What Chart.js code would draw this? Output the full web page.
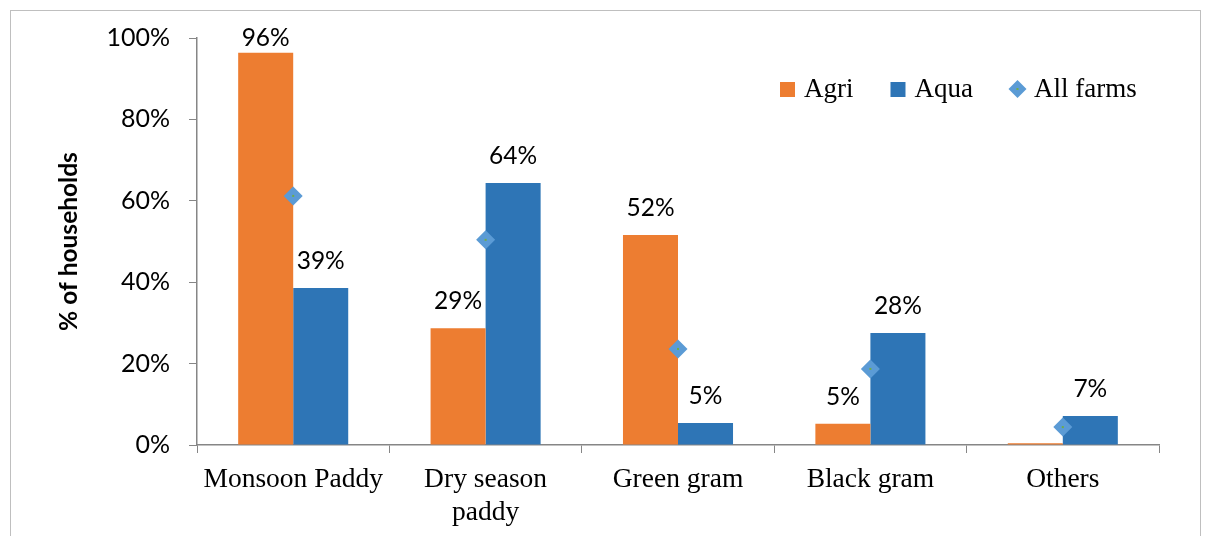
<!DOCTYPE html>
<html lang="en">
<head>
  <meta charset="UTF-8">
  <title>Crops grown by households</title>
  <script src="https://cdn.jsdelivr.net/npm/chart.js"></script>
  <style>
    html, body { margin: 0; padding: 0; background: #fff; }
    #wrap { position: relative; width: 1206px; height: 536px; overflow: hidden; }
    #frame { position: absolute; left: 10px; top: 10px; width: 1189px; height: 560px; border: 1px solid #bfbfbf; pointer-events: none; }
    canvas { position: absolute; left: 0; top: 0; }
  </style>
</head>
<body>
<div id="wrap">
  <canvas id="chart" width="1206" height="536"></canvas>
  <div id="frame"></div>
</div>

<script>
  const categories = ['Monsoon Paddy', ['Dry season', 'paddy'], 'Green gram', 'Black gram', 'Others'];
  const agri = [96.4, 28.7, 51.6, 5.2, 0.4];
  const aqua = [38.6, 64.4, 5.4, 27.5, 7.1];
  const allFarms = [61.2, 50.4, 23.6, 18.7, 4.4];
  const yTicks = [0, 20, 40, 60, 80, 100];

  const ORANGE = '#ED7D31', BLUE = '#2E75B6', DIAMOND = '#5B9BD5';
  const sansFont = "Lato, 'Open Sans', sans-serif";
  const serifFont = "'Liberation Serif', 'DejaVu Serif', serif";

  // percent labels over the bars
  const barLabels = {
    id: 'barLabels',
    afterDatasetsDraw(chart) {
      const ctx = chart.ctx;
      ctx.save();
      ctx.font = '24.5px ' + sansFont;
      ctx.fillStyle = '#000';
      ctx.textAlign = 'center';
      ctx.textBaseline = 'middle';
      [0, 1].forEach(di => {
        const meta = chart.getDatasetMeta(di);
        meta.data.forEach((bar, i) => {
          const v = chart.data.datasets[di].data[i];
          if (v < 1) return;
          const y = Math.max(bar.y - 27, chart.chartArea.top);
          ctx.fillText(Math.round(v) + '%', bar.x, y);
        });
      });
      // little green dot in the diamonds
      ctx.fillStyle = '#70AD47';
      chart.getDatasetMeta(2).data.forEach(p => {
        ctx.fillRect(p.x - 1, p.y - 1, 2, 2);
      });
      ctx.restore();
    }
  };

  // legend drawn inside the plot, top right
  const plotLegend = {
    id: 'plotLegend',
    afterDraw(chart) {
      const ctx = chart.ctx;
      const ds = chart.data.datasets;
      let x = 780;
      const y = 89;
      ctx.save();
      ctx.font = '27px ' + serifFont;
      ctx.textBaseline = 'middle';
      ctx.fillStyle = '#000';
      ds.forEach((d, i) => {
        if (i < 2) {
          ctx.fillStyle = d.backgroundColor;
          ctx.fillRect(x, y - 7, 15, 15);
        } else {
          ctx.fillStyle = DIAMOND;
          ctx.beginPath();
          ctx.moveTo(x + 7.5, y - 9);
          ctx.lineTo(x + 16.5, y);
          ctx.lineTo(x + 7.5, y + 9);
          ctx.lineTo(x - 1.5, y);
          ctx.closePath();
          ctx.fill();
          ctx.fillStyle = '#70AD47';
          ctx.fillRect(x + 6.5, y - 1, 2, 2);
        }
        ctx.fillStyle = '#000';
        const tx = x + 15 + 9;
        ctx.fillText(d.label, tx, y + 1);
        x = tx + ctx.measureText(d.label).width + 37;
      });
      ctx.restore();
    }
  };

  new Chart(document.getElementById('chart'), {
    type: 'bar',
    data: {
      labels: categories,
      datasets: [
        { label: 'Agri', data: agri, backgroundColor: ORANGE, order: 1 },
        { label: 'Aqua', data: aqua, backgroundColor: BLUE, order: 1 },
        {
          type: 'line', label: 'All farms', data: allFarms, order: 0,
          showLine: false, pointStyle: 'rectRot', pointRadius: 9.5,
          pointBackgroundColor: DIAMOND, pointBorderColor: DIAMOND, pointBorderWidth: 0,
          backgroundColor: DIAMOND, borderColor: DIAMOND
        }
      ]
    },
    options: {
      responsive: false,
      animation: false,
      events: [],
      layout: { padding: { left: 0, right: 47, top: 38, bottom: 0 } },
      datasets: { bar: { barPercentage: 1, categoryPercentage: 0.572 } },
      plugins: { legend: { display: false }, tooltip: { enabled: false } },
      scales: {
        x: {
          afterFit(s) { s.height = 91; },
          grid: { offset: true, drawOnChartArea: false, color: '#868686', tickLength: 8, tickColor: '#868686' },
          border: { color: '#868686', width: 1.5 },
          ticks: { color: '#000', font: { family: serifFont, size: 27.5, lineHeight: 1.2 }, padding: 10, maxRotation: 0, autoSkip: false }
        },
        y: {
          min: 0, max: 100,
          afterFit(s) { s.width = 197; },
          afterBuildTicks(s) { s.ticks = yTicks.map(v => ({ value: v })); },
          grid: { drawOnChartArea: false, color: '#868686', tickLength: 8 },
          border: { color: '#868686', width: 1.5 },
          ticks: { color: '#000', font: { family: sansFont, size: 25 }, padding: 19, callback: v => v + '%' },
          title: { display: true, text: '% of households', color: '#000', font: { family: sansFont, size: 24.5, weight: 'bold' }, padding: { top: 54, bottom: 0 } }
        }
      }
    },
    plugins: [barLabels, plotLegend]
  });
</script>
</body>
</html>
